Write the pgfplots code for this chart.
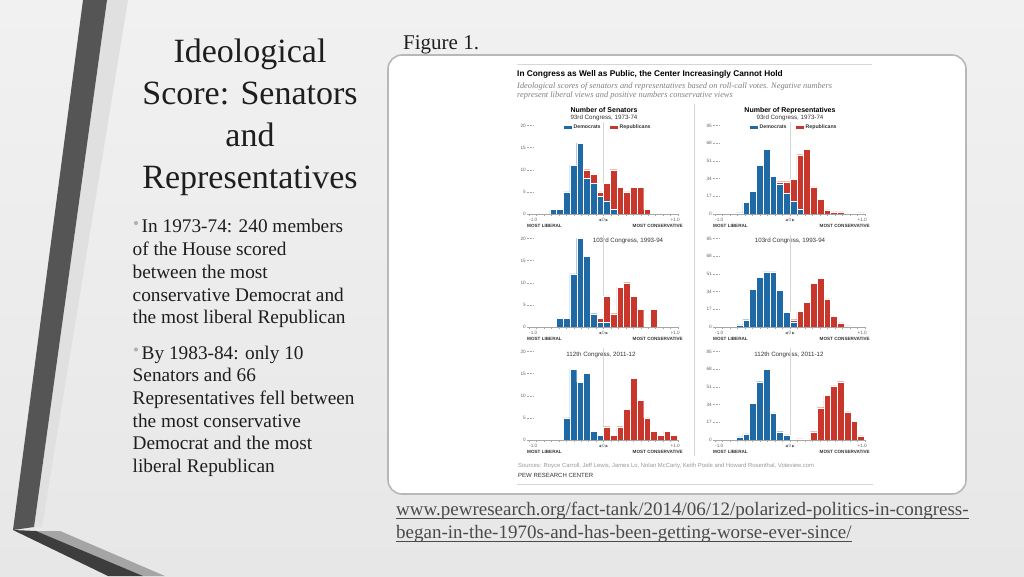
\documentclass[border=0pt]{standalone}
\usepackage{fontspec}
\setmainfont{Liberation Serif}
\newfontfamily\csans{Liberation Sans}
\newfontfamily\dvs{DejaVu Sans}
\usepackage{pgfplots}
\pgfplotsset{compat=1.18}
\usepackage{pgfplotstable}

\definecolor{demblue}{HTML}{1F6AA5}
\definecolor{repred}{HTML}{C9372C}
\definecolor{bgtop}{HTML}{F1F1F1}
\definecolor{bgbot}{HTML}{E7E7E7}
\definecolor{darkarm}{HTML}{555555}
\definecolor{lowarm}{HTML}{3D3D3D}
\definecolor{bevel}{HTML}{A5A5A5}
\definecolor{lightstrip}{HTML}{E0E0E0}
\definecolor{txt}{HTML}{1E1E1E}
\definecolor{urlcol}{HTML}{4A4A4A}
\definecolor{framegray}{HTML}{B8B8B8}
\definecolor{gridgray}{HTML}{D6D6D6}
\definecolor{labgray}{HTML}{666666}
\definecolor{labdark}{HTML}{333333}

% Senate 93rd
\pgfplotstableread{
n v
-8 1
-7 1
-6 5
-5 11
-4 16
-3 8
-2 7
-1 4
0 3
1 1
}\sDa
\pgfplotstableread{
n v
-3 10
-2 9
-1 5
0 7
1 10
2 6
3 5
4 6
5 6
6 1
}\sRa
% House 93rd
\pgfplotstableread{
n v
-8 1
-7 11
-6 22
-5 47
-4 62
-3 36
-2 29
-1 20
0 12
1 5
}\hDa
\pgfplotstableread{
n v
-2 31
-1 31
0 33
1 57
2 62
3 26
4 14
5 4
6 2
7 2
10 1
}\hRa
% Senate 103rd
\pgfplotstableread{
n v
-7 2
-6 2
-5 12
-4 20
-3 16
-2 3
-1 1
0 1
}\sDb
\pgfplotstableread{
n v
-1 2
0 7
1 3
2 9
3 10
4 7
5 4
7 4
}\sRb
% House 103rd
\pgfplotstableread{
n v
-8 2
-7 7
-6 36
-5 48
-4 53
-3 53
-2 35
-1 14
0 5
}\hDb
\pgfplotstableread{
n v
0 7
1 15
2 24
3 42
4 47
5 27
6 10
7 4
8 1
}\hRb
% Senate 112th
\pgfplotstableread{
n v
-6 5
-5 16
-4 13
-3 15
-2 2
-1 1
}\sDc
\pgfplotstableread{
n v
0 3
1 1
2 3
3 7
4 14
5 9
6 5
7 2
8 1
9 2
10 1
}\sRc
% House 112th
\pgfplotstableread{
n v
-8 3
-7 6
-6 35
-5 56
-4 68
-3 26
-2 8
-1 5
}\hDc
\pgfplotstableread{
n v
1 1
3 8
4 31
5 43
6 52
7 56
8 27
9 18
10 4
}\hRc

\tikzset{
  ticklab/.style={inner sep=0pt, text=labgray, font=\csans\fontsize{4.7}{5}\selectfont},
  boldlab/.style={inner sep=0pt, text=labdark, font=\csans\bfseries\fontsize{4.6}{5}\selectfont},
}

% #1 x-left (pt), #2 y of zero (pt, from bottom), #3 width, #4 ymax, #5 ticks, #6 dem, #7 rep
\newcommand{\panel}[7]{%
\begin{axis}[at={(#1pt,#2pt)}, anchor=south west, scale only axis,
  width=#3pt, height=88.5pt, hide axis, clip=false,
  xmin=-1, xmax=1, ymin=0, ymax=#4]
  \draw[gridgray, line width=0.5pt] (axis cs:0,0) -- (axis cs:0,#4*1.04);
  \addplot[ybar, bar width=0.09, bar shift=0pt, fill=repred, draw=white, line width=0.3pt]
    table[x expr={(\thisrow{n}+0.5)*0.09}, y=v] {#7};
  \addplot[ybar, bar width=0.09, bar shift=0pt, fill=demblue, draw=white, line width=0.3pt]
    table[x expr={(\thisrow{n}+0.5)*0.09}, y=v] {#6};
  \pgfplotsinvokeforeach{#5}{%
    \draw[densely dotted, gray!70, line width=0.4pt] ([xshift=-2pt]axis cs:-1,##1) -- ([xshift=4pt]axis cs:-1,##1);
    \node[ticklab, anchor=east, xshift=-3pt] at (axis cs:-1,##1) {##1};
  }
  \draw[gray!70, line width=0.5pt] (axis cs:-1,0) -- (axis cs:1,0);
  \pgfplotsinvokeforeach{-1,-0.9,-0.8,-0.7,-0.6,-0.5,-0.4,-0.3,-0.2,-0.1,0,0.1,0.2,0.3,0.4,0.5,0.6,0.7,0.8,0.9,1}{%
    \draw[gray!70, line width=0.4pt] (axis cs:##1,0) -- ([yshift=-2pt]axis cs:##1,0);
  }
  \node[ticklab, anchor=north west, yshift=-4pt] at (axis cs:-1,0) {-1.0};
  \node[ticklab, anchor=north, yshift=-4pt] at (axis cs:0,0) {{\dvs\fontsize{3.6}{4}\selectfont ◀}\,0\,{\dvs\fontsize{3.6}{4}\selectfont ▶}};
  \node[ticklab, anchor=north east, xshift=2pt, yshift=-4pt] at (axis cs:1,0) {+1.0};
  \node[boldlab, anchor=north west, xshift=-2pt, yshift=-10pt] at (axis cs:-1,0) {MOST LIBERAL};
  \node[boldlab, anchor=north east, xshift=5pt, yshift=-10pt] at (axis cs:1,0) {MOST CONSERVATIVE};
\end{axis}}

\begin{document}
\begin{tikzpicture}[x=1pt,y=1pt]
\useasboundingbox (0,0) rectangle (1024,576);
\shade[top color=bgtop, bottom color=bgbot] (0,0) rectangle (1024,576);
% left decoration
\fill[lightstrip] (107,576) -- (128,576) -- (42,49) -- (34,49) -- cycle;
\fill[darkarm] (83,576) -- (107,576) -- (34,49) -- (13,46) -- cycle;
\fill[bevel] (36,45) -- (60,45) -- (165,0) -- (143,0) -- cycle;
\fill[lowarm] (13,46) -- (36,45) -- (143,0) -- (108,0) -- cycle;

% title
\begin{scope}[every node/.style={anchor=base, inner sep=0pt, text=txt, font=\fontsize{34}{40}\selectfont}]
\node at (250,576-63) {Ideological};
\node at (250,576-105) {Score: Senators};
\node at (250,576-147) {and};
\node at (250,576-189) {Representatives};
\end{scope}

% bullets
\fill[gray!60] (136,576-223) circle (2.1);
\fill[gray!60] (136,576-349.5) circle (2.1);
\begin{scope}[every node/.style={anchor=base west, inner sep=0pt, text=txt, font=\fontsize{19.3}{22}\selectfont}]
\node at (141.5,576-233) {In 1973-74: 240 members};
\node at (132.5,576-256) {of the House scored};
\node at (132.5,576-278.7) {between the most};
\node at (132.5,576-301.5) {conservative Democrat and};
\node at (132.5,576-324) {the most liberal Republican};
\node at (141.5,576-359.3) {By 1983-84: only 10};
\node at (132.5,576-381.7) {Senators and 66};
\node at (132.5,576-404.3) {Representatives fell between};
\node at (132.5,576-427) {the most conservative};
\node at (132.5,576-449.8) {Democrat and the most};
\node at (132.5,576-472.5) {liberal Republican};
\end{scope}

\node[anchor=base west, inner sep=0pt, text=txt, font=\fontsize{21}{24}\selectfont] at (403,576-50) {Figure 1.};

% URL
\begin{scope}[every node/.style={anchor=base west, inner sep=0pt, text=urlcol, font=\fontsize{19}{22}\selectfont}]
\node (u1) at (396,576-515.7) {www.pewresearch.org/fact-tank/2014/06/12/polarized-politics-in-congress-};
\node (u2) at (396,576-538.3) {began-in-the-1970s-and-has-been-getting-worse-ever-since/};
\end{scope}
\draw[urlcol, line width=0.9pt] ([yshift=-3pt]u1.base west) -- ([yshift=-3pt]u1.base east);
\draw[urlcol, line width=0.9pt] ([yshift=-3pt]u2.base west) -- ([yshift=-3pt]u2.base east);

% chart frame
\filldraw[fill=white, draw=framegray, line width=1.6pt, rounded corners=14pt] (388,576-494) rectangle (966,576-55);

\draw[gridgray, line width=0.6pt] (517,576-64) -- (872,576-64);
\draw[gridgray, line width=0.6pt] (517,576-484) -- (873,576-484);
\draw[gridgray, line width=0.5pt] (694,576-104) -- (694,576-456);

\node[anchor=base west, inner sep=0pt, text=black, font=\csans\bfseries\fontsize{8.3}{9}\selectfont] at (517,576-76.5) {In Congress as Well as Public, the Center Increasingly Cannot Hold};
\node[anchor=base west, inner sep=0pt, text=gray, font=\itshape\fontsize{8.4}{9}\selectfont] at (517,576-88.5) {Ideological scores of senators and representatives based on roll-call votes. Negative numbers};
\node[anchor=base west, inner sep=0pt, text=gray, font=\itshape\fontsize{8.4}{9}\selectfont] at (517,576-98) {represent liberal views and positive numbers conservative views};

\node[anchor=base, inner sep=0pt, text=black, font=\csans\bfseries\fontsize{7}{8}\selectfont] at (604,576-112.5) {Number of Senators};
\node[anchor=base, inner sep=0pt, text=labdark, font=\csans\fontsize{6.2}{7}\selectfont] at (604,576-119.5) {93rd Congress, 1973-74};
\node[anchor=base, inner sep=0pt, text=black, font=\csans\bfseries\fontsize{7}{8}\selectfont] at (790,576-112.5) {Number of Representatives};
\node[anchor=base, inner sep=0pt, text=labdark, font=\csans\fontsize{6.2}{7}\selectfont] at (790,576-119.5) {93rd Congress, 1973-74};

% legends
\fill[demblue] (564,576-128.6) rectangle (572,576-125.6);
\node[anchor=west, inner sep=0pt, text=labdark, font=\csans\bfseries\fontsize{5.2}{6}\selectfont] at (573.5,576-127.1) {Democrats};
\fill[repred] (610,576-128.6) rectangle (618,576-125.6);
\node[anchor=west, inner sep=0pt, text=labdark, font=\csans\bfseries\fontsize{5.2}{6}\selectfont] at (619.5,576-127.1) {Republicans};
\fill[demblue] (750,576-128.6) rectangle (758,576-125.6);
\node[anchor=west, inner sep=0pt, text=labdark, font=\csans\bfseries\fontsize{5.2}{6}\selectfont] at (759.5,576-127.1) {Democrats};
\fill[repred] (796,576-128.6) rectangle (804,576-125.6);
\node[anchor=west, inner sep=0pt, text=labdark, font=\csans\bfseries\fontsize{5.2}{6}\selectfont] at (805.5,576-127.1) {Republicans};

% row titles
\node[anchor=base, inner sep=0pt, text=labdark, font=\csans\fontsize{6.2}{7}\selectfont] at (628,576-243) {103rd Congress, 1993-94};
\node[anchor=base, inner sep=0pt, text=labdark, font=\csans\fontsize{6.2}{7}\selectfont] at (790,576-243) {103rd Congress, 1993-94};
\node[anchor=base, inner sep=0pt, text=labdark, font=\csans\fontsize{6.2}{7}\selectfont] at (601,576-356) {112th Congress, 2011-12};
\node[anchor=base, inner sep=0pt, text=labdark, font=\csans\fontsize{6.2}{7}\selectfont] at (789,576-356) {112th Congress, 2011-12};

% panels
\panel{529}{362}{149}{20}{0,5,10,15,20}{\sDa}{\sRa}
\panel{715}{362}{150}{85}{0,17,34,51,68,85}{\hDa}{\hRa}
\panel{529}{249}{149}{20}{0,5,10,15,20}{\sDb}{\sRb}
\panel{715}{249}{150}{85}{0,17,34,51,68,85}{\hDb}{\hRb}
\panel{529}{136}{149}{20}{0,5,10,15,20}{\sDc}{\sRc}
\panel{715}{136}{150}{85}{0,17,34,51,68,85}{\hDc}{\hRc}

\node[anchor=base west, inner sep=0pt, text=gray!80, font=\csans\fontsize{5.9}{7}\selectfont] at (518,576-467.5) {Sources: Royce Carroll, Jeff Lewis, James Lo, Nolan McCarty, Keith Poole and Howard Rosenthal, Voteview.com};
\node[anchor=base west, inner sep=0pt, text=labdark, font=\csans\fontsize{6}{7}\selectfont] at (518,576-477.5) {PEW RESEARCH CENTER};
\end{tikzpicture}
\end{document}
